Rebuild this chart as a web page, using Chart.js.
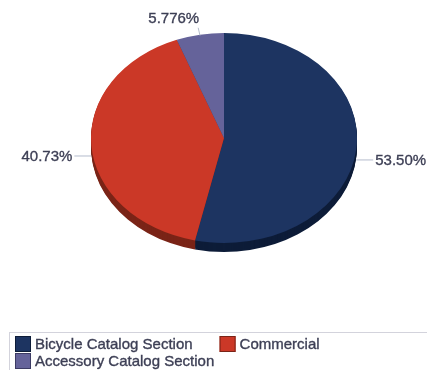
<!DOCTYPE html>
<html><head><meta charset="utf-8">
<script src="https://cdn.jsdelivr.net/npm/chart.js@4/dist/chart.umd.min.js"></script>
<style>html,body{margin:0;padding:0;background:#fff;overflow:hidden}#wrap{width:427px;height:370px;position:relative}</style>
</head><body><div id="wrap"><canvas id="c" width="427" height="370"></canvas></div>
<script>
const categories = ['Bicycle Catalog Section', 'Commercial', 'Accessory Catalog Section'];
const shares = [53.50, 40.73, 5.776];
const valueLabels = ['53.50%', '40.73%', '5.776%'];
const colors = ['#1d3461', '#cb3827', '#65639a'];
const sideColors = ['#0d1c38', '#7a2417', '#3c3b64'];

const K = 105 / 133;   // vertical squash of the pie (tilt)
const DEPTH = 9;       // thickness of the 3D rim
const FONT = '15px "Liberation Sans", Arial, sans-serif';
const TEXT = '#3d3f55';

function tilt(ctx, cx, cy) { ctx.translate(cx, cy); ctx.scale(1, K); ctx.translate(-cx, -cy); }

function heavyText(ctx, t, x, y) {
  ctx.fillText(t, x, y);
  ctx.lineWidth = 0.35; ctx.strokeStyle = TEXT; ctx.strokeText(t, x, y);
}

const pie3d = {
  id: 'pie3d',
  beforeDatasetsDraw(chart) {
    const ctx = chart.ctx, meta = chart.getDatasetMeta(0);
    const a0 = meta.data[0], cx = a0.x, cy = a0.y;
    for (let d = DEPTH; d >= 1; d--) {
      ctx.save(); ctx.translate(0, d); tilt(ctx, cx, cy);
      meta.data.forEach((arc, i) => {
        ctx.beginPath(); ctx.moveTo(cx, cy);
        ctx.arc(cx, cy, arc.outerRadius, arc.startAngle, arc.endAngle);
        ctx.closePath(); ctx.fillStyle = sideColors[i]; ctx.fill();
      });
      ctx.restore();
    }
    ctx.save(); tilt(ctx, cx, cy);
  },
  afterDatasetsDraw(chart) {
    const ctx = chart.ctx; ctx.restore();
    const meta = chart.getDatasetMeta(0);
    ctx.save();
    ctx.font = FONT; ctx.fillStyle = TEXT;
    meta.data.forEach((arc, i) => {
      const cx = arc.x, cy = arc.y, r = arc.outerRadius;
      const mid = (arc.startAngle + arc.endAngle) / 2;
      const c = Math.cos(mid), s = Math.sin(mid);
      let sx = cx + r * c, sy = cy + r * K * s + (DEPTH + 1) * Math.abs(c);
      ctx.strokeStyle = '#b4bccc'; ctx.lineWidth = 1;
      if (Math.abs(s) > 0.9) {
        let dx = c, dy = s * K; const n = Math.hypot(dx, dy); dx /= n; dy /= n;
        sy -= 1;
        const ex = sx + dx * 8, ey = sy + dy * 8;
        ctx.beginPath(); ctx.moveTo(sx, sy); ctx.lineTo(ex, ey); ctx.stroke();
        ctx.textAlign = c < 0 ? 'right' : 'left'; ctx.textBaseline = 'alphabetic';
        heavyText(ctx, valueLabels[i], ex + 1, ey - 5);
      } else {
        const dir = c >= 0 ? 1 : -1;
        const ex = sx + dir * 17;
        ctx.beginPath(); ctx.moveTo(sx, sy + 0.5); ctx.lineTo(ex, sy + 0.5); ctx.stroke();
        ctx.textAlign = dir > 0 ? 'left' : 'right'; ctx.textBaseline = 'middle';
        heavyText(ctx, valueLabels[i], ex + dir * 2, sy + 1);
      }
    });
    ctx.restore();
  }
};

const boxLegend = {
  id: 'boxLegend',
  afterDraw(chart) {
    const ctx = chart.ctx;
    ctx.save();
    ctx.strokeStyle = '#d3d3dc'; ctx.lineWidth = 1;
    ctx.strokeRect(9.5, 332.5, 440, 60);
    ctx.font = FONT; ctx.textBaseline = 'middle'; ctx.textAlign = 'left';
    let x = 15, y = 336;
    const right = 420, gap = 27, sw = 16;
    categories.forEach((lab, i) => {
      const w = sw + 4 + ctx.measureText(lab).width;
      if (x + w > right && x > 15) { x = 15; y += 17; }
      ctx.fillStyle = colors[i]; ctx.fillRect(x, y, sw, sw);
      ctx.lineWidth = 1; ctx.strokeStyle = sideColors[i]; ctx.strokeRect(x + 0.5, y + 0.5, sw - 1, sw - 1);
      ctx.fillStyle = TEXT; heavyText(ctx, lab, x + sw + 4, y + sw / 2 + 1);
      x += w + gap;
    });
    ctx.restore();
  }
};

new Chart(document.getElementById('c'), {
  type: 'pie',
  data: { labels: categories, datasets: [{ data: shares, backgroundColor: colors, borderWidth: 0, clip: false }] },
  options: {
    responsive: false, animation: false,
    layout: { padding: { left: 91, right: 70, top: 5, bottom: 99 } },
    plugins: { legend: { display: false }, tooltip: { enabled: false } }
  },
  plugins: [pie3d, boxLegend]
});
</script></body></html>
